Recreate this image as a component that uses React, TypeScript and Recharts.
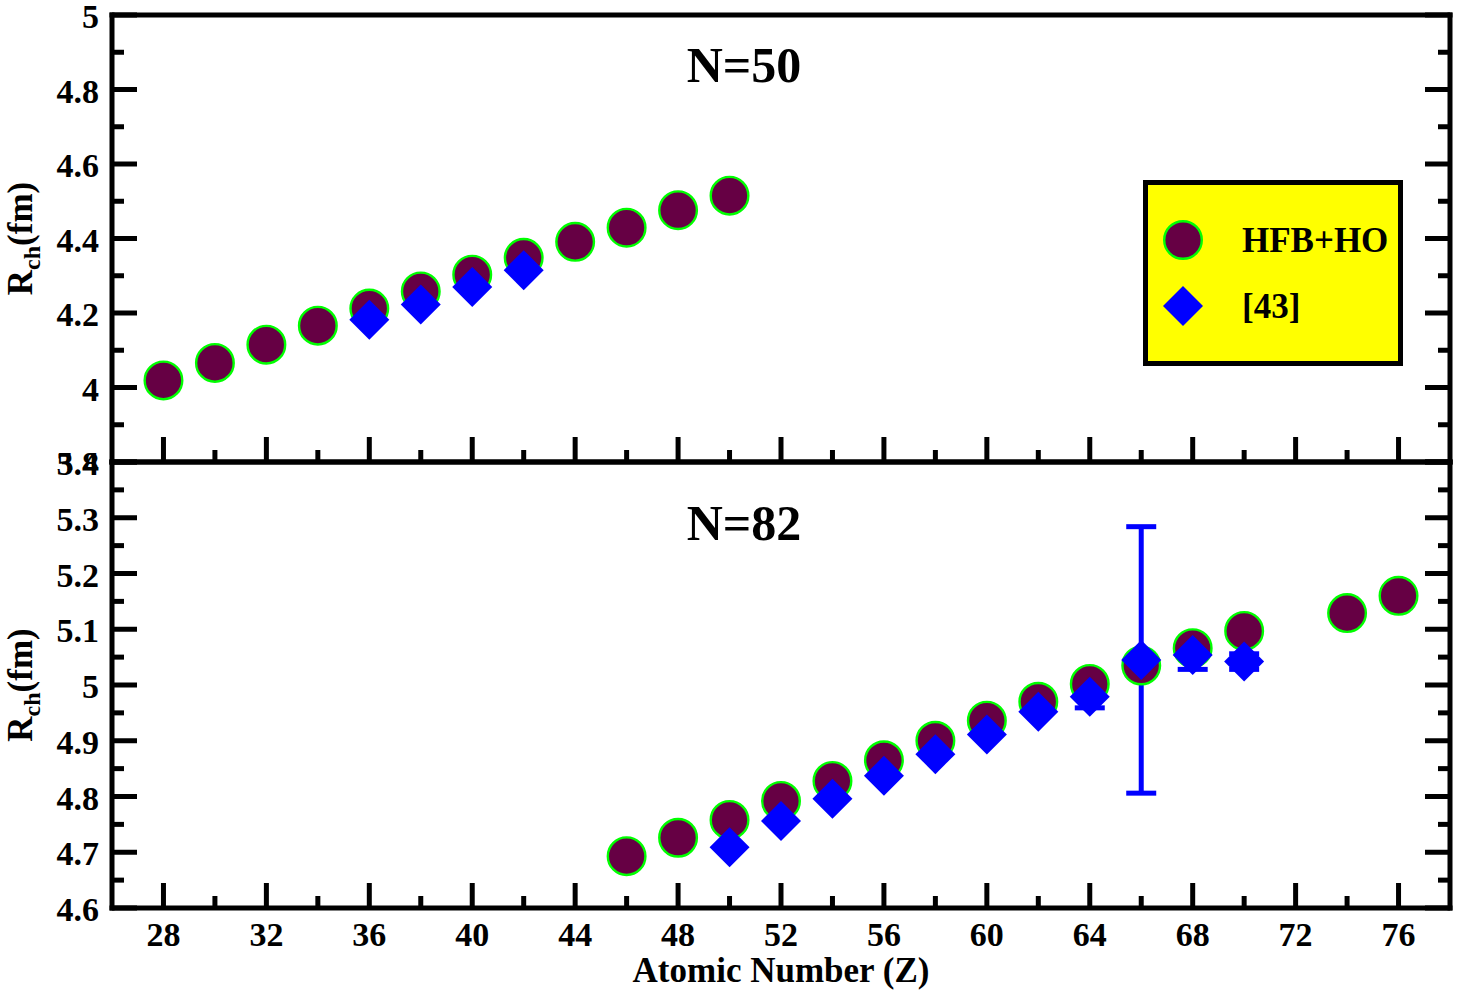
import React from 'react';
import { ScatterChart, Scatter, XAxis, YAxis, ErrorBar, Legend } from 'recharts';

const FONT = '"Liberation Serif", "Times New Roman", Times, serif';

// ---- axis ticks ----
const xDomain = [26, 78];
const xMajorTicks = [28, 32, 36, 40, 44, 48, 52, 56, 60, 64, 68, 72, 76];
const xMinorTicks = [30, 34, 38, 42, 46, 50, 54, 58, 62, 66, 70, 74];

const topYDomain = [3.8, 5];
const topYMajorTicks = [3.8, 4, 4.2, 4.4, 4.6, 4.8, 5];
const topYMinorTicks = [3.9, 4.1, 4.3, 4.5, 4.7, 4.9];

const botYDomain = [4.6, 5.4];
const botYMajorTicks = [4.6, 4.7, 4.8, 4.9, 5, 5.1, 5.2, 5.3, 5.4];
const botYMinorTicks = [4.65, 4.75, 4.85, 4.95, 5.05, 5.15, 5.25, 5.35];

// ---- N=50 data ----
const n50Z = [28, 30, 32, 34, 36, 38, 40, 42, 44, 46, 48, 50];
const n50Hfb = [4.019, 4.066, 4.115, 4.166, 4.212, 4.258, 4.303, 4.348, 4.391, 4.429, 4.476, 4.515];
const n50ExpZ = [36, 38, 40, 42];
const n50Exp = [4.182, 4.223, 4.27, 4.315];

// ---- N=82 data ----
const n82Z = [46, 48, 50, 52, 54, 56, 58, 60, 62, 64, 66, 68, 70, 74, 76];
const n82Hfb = [4.693, 4.726, 4.758, 4.792, 4.828, 4.865, 4.9, 4.936, 4.97, 5.002, 5.035, 5.066, 5.097, 5.129, 5.16];
const n82ExpZ = [50, 52, 54, 56, 58, 60, 62, 64, 66, 68, 70];
const n82Exp = [4.709, 4.756, 4.796, 4.837, 4.876, 4.911, 4.952, 4.979, 5.045, 5.054, 5.042];
const n82ExpErr = [null, null, null, null, null, null, null, 0.02, 0.239, 0.026, 0.014];

const seriesNames = ['HFB+HO', '[43]'];

const CIRCLE_FILL = '#660044';
const CIRCLE_STROKE = '#00ff00';
const DIAMOND_FILL = '#0000ff';

const axisLineStyle = { stroke: '#000', strokeWidth: 5, strokeLinecap: 'square' as const };

const isIn = (arr: number[], v: number) => arr.some((m) => Math.abs(m - v) < 1e-6);

function makeTick(side: 'bottom' | 'top' | 'left' | 'right', major: number[], labels: boolean) {
  return (props: any) => {
    const { x, y, payload } = props;
    const v = payload.value;
    const isMajor = isIn(major, v);
    const len = isMajor ? 25 : 12;
    let x2 = x;
    let y2 = y;
    if (side === 'bottom') y2 = y - len;
    if (side === 'top') y2 = y + len;
    if (side === 'left') x2 = x + len;
    if (side === 'right') x2 = x - len;
    let label = null;
    if (labels && isMajor) {
      if (side === 'bottom') {
        label = (
          <text x={x} y={y + 38} textAnchor="middle" fontFamily={FONT} fontWeight="bold" fontSize={34} fill="#000">
            {String(v)}
          </text>
        );
      } else if (side === 'left') {
        label = (
          <text x={x - 13} y={y + 13} textAnchor="end" fontFamily={FONT} fontWeight="bold" fontSize={34} fill="#000">
            {String(v)}
          </text>
        );
      }
    }
    return (
      <g>
        <line x1={x} y1={y} x2={x2} y2={y2} stroke="#000" strokeWidth={5} />
        {label}
      </g>
    );
  };
}

const CircleShape = (p: any) => (
  <circle cx={p.cx} cy={p.cy} r={18.8} fill={CIRCLE_FILL} stroke={CIRCLE_STROKE} strokeWidth={2.4} />
);
const DiamondShape = (p: any) => (
  <polygon
    points={`${p.cx},${p.cy - 20} ${p.cx + 20},${p.cy} ${p.cx},${p.cy + 20} ${p.cx - 20},${p.cy}`}
    fill={DIAMOND_FILL}
  />
);

const YTitle = ({ cy }: { cy: number }) => (
  <text
    transform={`translate(32, ${cy}) rotate(-90)`}
    textAnchor="middle"
    fontFamily={FONT}
    fontWeight="bold"
    fontSize={35}
    fill="#000"
  >
    R
    <tspan fontSize={24} dy={8}>ch</tspan>
    <tspan dy={-8}>(fm)</tspan>
  </text>
);

const PanelTitle = ({ x, y, text }: { x: number; y: number; text: string }) => (
  <text x={x} y={y} textAnchor="middle" fontFamily={FONT} fontWeight="bold" fontSize={50} fill="#000">
    {text}
  </text>
);

const LegendBox = (props: any) => {
  const payload = props.payload || [];
  return (
    <div
      style={{
        width: 260,
        height: 186,
        background: '#ffff00',
        border: '5px solid #000',
        boxSizing: 'border-box',
      }}
    >
      <svg width={250} height={176} style={{ display: 'block' }}>
        {payload.map((e: any, i: number) => {
          const cy = i === 0 ? 55 : 121;
          return (
            <g key={i}>
              {i === 0 ? (
                <circle cx={35} cy={cy} r={18.8} fill={CIRCLE_FILL} stroke={CIRCLE_STROKE} strokeWidth={2.4} />
              ) : (
                <polygon points={`35,${cy - 20} 55,${cy} 35,${cy + 20} 15,${cy}`} fill={DIAMOND_FILL} />
              )}
              <text x={94} y={cy + 12} fontFamily={FONT} fontWeight="bold" fontSize={35} fill="#000">
                {e.value}
              </text>
            </g>
          );
        })}
      </svg>
    </div>
  );
};

export default function App() {
  const xAll = [...xMajorTicks, ...xMinorTicks].sort((a, b) => a - b);
  const topYAll = [...topYMajorTicks, ...topYMinorTicks].sort((a, b) => a - b);
  const botYAll = [...botYMajorTicks, ...botYMinorTicks].sort((a, b) => a - b);

  const topHfb = n50Z.map((z, i) => ({ z, r: n50Hfb[i] }));
  const topExp = n50ExpZ.map((z, i) => ({ z, r: n50Exp[i] }));
  const botHfb = n82Z.map((z, i) => ({ z, r: n82Hfb[i] }));
  const botExp = n82ExpZ.map((z, i) => {
    const o: any = { z, r: n82Exp[i] };
    if (n82ExpErr[i] != null) o.err = n82ExpErr[i];
    return o;
  });

  return (
    <div style={{ position: 'absolute', left: 0, top: 0, width: 1459, height: 994, background: '#fff' }}>
      <div style={{ position: 'absolute', left: 0, top: 0 }}>
        <ScatterChart width={1459} height={470} margin={{ top: 0, right: 0, bottom: 0, left: 0 }}>
          <XAxis
            xAxisId="b"
            type="number"
            dataKey="z"
            domain={xDomain}
            ticks={xAll}
            interval={0}
            tickSize={0}
            tickMargin={0}
            tick={makeTick('bottom', xMajorTicks, false)}
            axisLine={axisLineStyle}
            height={8}
            allowDataOverflow
          />
          <XAxis
            xAxisId="t"
            orientation="top"
            type="number"
            domain={xDomain}
            ticks={xAll}
            interval={0}
            tickSize={0}
            tickMargin={0}
            tick={makeTick('top', xMajorTicks, false)}
            axisLine={axisLineStyle}
            height={15}
            allowDataOverflow
            label={{ content: () => <PanelTitle x={744} y={82} text="N=50" /> }}
          />
          <YAxis
            yAxisId="l"
            type="number"
            dataKey="r"
            domain={topYDomain}
            ticks={topYAll}
            interval={0}
            tickSize={0}
            tickMargin={0}
            tick={makeTick('left', topYMajorTicks, true)}
            axisLine={axisLineStyle}
            width={112}
            allowDataOverflow
            label={{ content: () => <YTitle cy={238.5} /> }}
          />
          <YAxis
            yAxisId="r"
            orientation="right"
            type="number"
            domain={topYDomain}
            ticks={topYAll}
            interval={0}
            tickSize={0}
            tickMargin={0}
            tick={makeTick('right', topYMajorTicks, false)}
            axisLine={axisLineStyle}
            width={9}
            allowDataOverflow
          />
          <Scatter
            name={seriesNames[0]}
            data={topHfb}
            xAxisId="b"
            yAxisId="l"
            shape={CircleShape}
            fill={CIRCLE_FILL}
            isAnimationActive={false}
          />
          <Scatter
            name={seriesNames[1]}
            data={topExp}
            xAxisId="b"
            yAxisId="l"
            shape={DiamondShape}
            fill={DIAMOND_FILL}
            isAnimationActive={false}
          />
          <Legend
            layout="vertical"
            align="center"
            verticalAlign="middle"
            content={LegendBox}
            wrapperStyle={{ position: 'absolute', left: 1143, top: 180, width: 260, height: 186, margin: 0, padding: 0 }}
          />
        </ScatterChart>
      </div>
      <div style={{ position: 'absolute', left: 0, top: 440 }}>
        <ScatterChart width={1459} height={554} margin={{ top: 0, right: 0, bottom: 0, left: 0 }}>
          <XAxis
            xAxisId="b"
            type="number"
            dataKey="z"
            domain={xDomain}
            ticks={xAll}
            interval={0}
            tickSize={0}
            tickMargin={0}
            tick={makeTick('bottom', xMajorTicks, true)}
            axisLine={axisLineStyle}
            height={86}
            allowDataOverflow
            label={{
              content: () => (
                <text x={781} y={542} textAnchor="middle" fontFamily={FONT} fontWeight="bold" fontSize={35} fill="#000">
                  Atomic Number (Z)
                </text>
              ),
            }}
          />
          <XAxis
            xAxisId="t"
            orientation="top"
            type="number"
            domain={xDomain}
            ticks={xAll}
            interval={0}
            tickSize={0}
            tickMargin={0}
            tick={makeTick('top', xMajorTicks, false)}
            axisLine={axisLineStyle}
            height={22}
            allowDataOverflow
            label={{ content: () => <PanelTitle x={744} y={100} text="N=82" /> }}
          />
          <YAxis
            yAxisId="l"
            type="number"
            dataKey="r"
            domain={botYDomain}
            ticks={botYAll}
            interval={0}
            tickSize={0}
            tickMargin={0}
            tick={makeTick('left', botYMajorTicks, true)}
            axisLine={axisLineStyle}
            width={112}
            allowDataOverflow
            label={{ content: () => <YTitle cy={245} /> }}
          />
          <YAxis
            yAxisId="r"
            orientation="right"
            type="number"
            domain={botYDomain}
            ticks={botYAll}
            interval={0}
            tickSize={0}
            tickMargin={0}
            tick={makeTick('right', botYMajorTicks, false)}
            axisLine={axisLineStyle}
            width={9}
            allowDataOverflow
          />
          <Scatter
            name={seriesNames[0]}
            data={botHfb}
            xAxisId="b"
            yAxisId="l"
            shape={CircleShape}
            fill={CIRCLE_FILL}
            isAnimationActive={false}
          />
          <Scatter
            name={seriesNames[1]}
            data={botExp}
            xAxisId="b"
            yAxisId="l"
            shape={DiamondShape}
            fill={DIAMOND_FILL}
            isAnimationActive={false}
          >
            <ErrorBar dataKey="err" direction="y" width={15} stroke={DIAMOND_FILL} strokeWidth={5} isAnimationActive={false} />
          </Scatter>
        </ScatterChart>
      </div>
    </div>
  );
}
